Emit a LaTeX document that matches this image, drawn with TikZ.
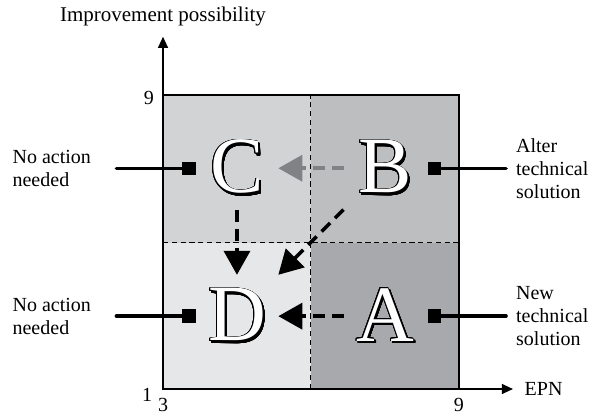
\documentclass[tikz,border=0pt]{standalone}
\usepackage{fontspec}
\setmainfont{Liberation Serif}
\usepackage[copies]{contour}
\contourlength{0.35pt}
\usetikzlibrary{arrows.meta,positioning}

\definecolor{quadA}{HTML}{A7A9AC}
\definecolor{quadB}{HTML}{BCBEC0}
\definecolor{quadC}{HTML}{D1D3D4}
\definecolor{quadD}{HTML}{E6E7E8}
\definecolor{movegrey}{HTML}{808285}

% white letter with black outline and a drop shadow
\newcommand{\quadletter}[1]{%
	\makebox[0pt][l]{\kern1pt\raisebox{-1pt}{\contour{black}{#1}}}%
	{\color{white}\contour{black}{#1}}}

\tikzset{
	letter/.style={minimum width=1.44cm, minimum height=1.44cm, inner sep=0pt,
		font=\fontsize{40}{40}\selectfont},
	move/.style={line width=1.8pt, dash pattern=on 6pt off 3.5pt,
		-{Triangle[length=12pt,width=13pt]}},
	marker/.style={fill=black, minimum size=0.24cm, inner sep=0pt},
	pointer/.style={line width=1.7pt, line cap=round},
	sidetext/.style={align=left, inner sep=0pt, font=\fontsize{10}{11.5}\selectfont},
	axis/.style={line width=0.6pt, -{Triangle[length=5.5pt,width=5pt]}}
}

\begin{document}
\begin{tikzpicture}[scale=1.0]
	\useasboundingbox (-2.865,-0.422) rectangle (7.575,6.837);
	% quadrants
	\fill[quadC] (0,2.57) rectangle (2.60,5.17);
	\fill[quadB] (2.60,2.57) rectangle (5.20,5.17);
	\fill[quadD] (0,0) rectangle (2.60,2.57);
	\fill[quadA] (2.60,0) rectangle (5.20,2.57);
	\draw[line width=0.5pt, dash pattern=on 2.6pt off 1.8pt] (2.60,0) -- (2.60,5.17);
	\draw[line width=0.5pt, dash pattern=on 2.6pt off 1.8pt] (0,2.57) -- (5.20,2.57);
	\draw[line width=0.7pt] (0,0) rectangle (5.20,5.17);
	% axes
	\coordinate (origin) at (0,0);
	\coordinate (ytip) at (0,6.19);
	\coordinate (xtip) at (6.15,0);
	\draw[axis] (origin) -- (ytip);
	\draw[axis] (origin) -- (xtip);
	\node (ytitle) at (0,6.54) {\fontsize{10.5}{12}\selectfont Improvement possibility};
	\node[right=0.2cm of xtip, inner sep=0pt] (xtitle) {EPN};
	\node (ymax) at (-0.25,5.11) {9};
	\node (ymin) at (-0.28,-0.10) {1};
	\node (xmin) at (0,-0.285) {3};
	\node (xmax) at (5.20,-0.285) {9};
	% the four letters
	\node[letter] (qc) at (1.30,3.88) {\quadletter{C}};
	\node[letter] (qb) at (3.90,3.88) {\quadletter{B}};
	\node[letter] (qd) at (1.30,1.28) {\quadletter{D}};
	\node[letter] (qa) at (3.90,1.28) {\quadletter{A}};
	\draw[move, color=movegrey] (qb) -- (qc);
	\draw[move] (qc) -- (qd);
	\draw[move] (qb) -- (qd);
	\draw[move] (qa) -- (qd);
	% markers and side texts
	\node[marker] (mc) at (0.455,3.875) {};
	\node[marker] (md) at (0.455,1.28) {};
	\node[marker] (mb) at (4.77,3.875) {};
	\node[marker] (ma) at (4.77,1.28) {};
	\coordinate (lc) at (-0.82,3.875);
	\coordinate (ld) at (-0.82,1.28);
	\coordinate (rb) at (6.03,3.875);
	\coordinate (ra) at (6.03,1.28);
	\draw[pointer] (lc) -- (mc);
	\draw[pointer] (ld) -- (md);
	\draw[pointer] (mb) -- (rb);
	\draw[pointer] (ma) -- (ra);
	\node[sidetext, left=0.44cm of lc] (tc) {No action\\needed};
	\node[sidetext, left=0.44cm of ld] (td) {No action\\needed};
	\node[sidetext, right=0.17cm of rb] (tb) {Alter\\technical\\solution};
	\node[sidetext, right=0.17cm of ra] (ta) {New\\technical\\solution};
\end{tikzpicture}
\end{document}
